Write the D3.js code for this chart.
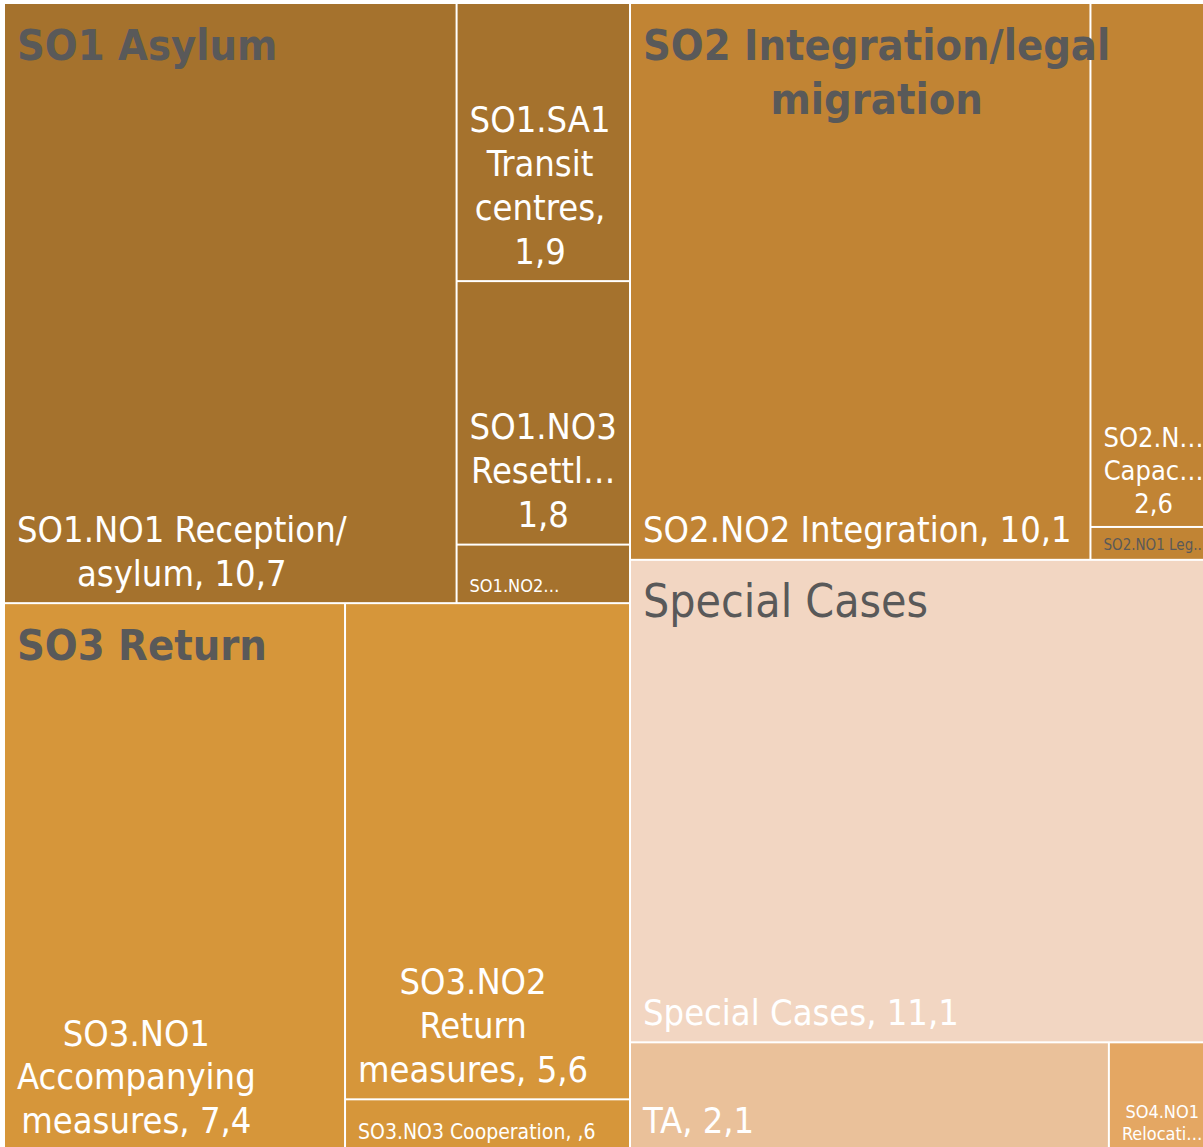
<!DOCTYPE html>
<html>
<head>
<meta charset="utf-8">
<script src="https://cdn.jsdelivr.net/npm/d3@7"></script>
<style>
  body { margin: 0; background: #fff; }
  svg text { font-family: "DejaVu Sans Condensed", "DejaVu Sans", sans-serif; font-stretch: condensed; }
</style>
</head>
<body>
<div id="chart"></div>
<script>
// groups, in the order the treemap lays them out
const groupNames = ["SO1 Asylum", "SO3 Return", "SO2 Integration/legal migration", "Special Cases"];
const groupTitleLines = [["SO1 Asylum"], ["SO3 Return"], ["SO2 Integration/legal", "migration"], ["Special Cases"]];

// leaves
const leafIds = ["SO1.NO1", "SO1.SA1", "SO1.NO3", "SO1.NO2",
  "SO3.NO1", "SO3.NO2", "SO3.NO3",
  "SO2.NO2", "SO2.NO3", "SO2.NO1",
  "Special Cases", "TA", "SO4.NO1"];
const leafGroup = [0, 0, 0, 0, 1, 1, 1, 2, 2, 2, 3, 3, 3];
const leafValues = [10.7, 1.9, 1.8, 0.4, 7.36, 5.57, 0.58, 10.1, 2.55, 0.16, 11.1, 2.05, 0.45];
const leafLabels = [
  ["SO1.NO1 Reception/", "asylum, 10,7"],
  ["SO1.SA1", "Transit", "centres,", "1,9"],
  ["SO1.NO3", "Resettl…", "1,8"],
  ["SO1.NO2…"],
  ["SO3.NO1", "Accompanying", "measures, 7,4"],
  ["SO3.NO2", "Return", "measures, 5,6"],
  ["SO3.NO3 Cooperation, ,6"],
  ["SO2.NO2 Integration, 10,1"],
  ["SO2.N…", "Capac…", "2,6"],
  ["SO2.NO1 Leg.."],
  ["Special Cases, 11,1"],
  ["TA, 2,1"],
  ["SO4.NO1", "Relocati…"],
];

// styles
const groupFill = ["#A5722D", "#D6963A", "#C18434", null];
const leafFill = { "Special Cases": "#F2D6C2", "TA": "#EAC19A", "SO4.NO1": "#E4A763" };
const labelSize = { "SO1.NO2": 18, "SO2.NO3": 27, "SO2.NO1": 15, "SO3.NO3": 21, "SO4.NO1": 18 };
const labelColor = { "SO2.NO1": "#595959" };
const titleWeight = ["bold", "bold", "bold", "normal"];
const titleSize = [43, 43, 43, 46];
const grey = "#595959";

const width = 1203, height = 1147;
const origin = [5, 4];

const svg = d3.select("#chart").append("svg")
  .attr("width", width)
  .attr("height", height);

const data = {
  children: groupNames.map((name, gi) => ({
    name, gi,
    children: leafIds.map((id, i) => ({ id, i })).filter((d) => leafGroup[d.i] === gi),
  })),
};

const root = d3.hierarchy(data).sum((d) => (d.children ? 0 : leafValues[d.i]));

d3.treemap()
  .tile(d3.treemapSquarify.ratio(1))
  .size([1208, 1146])
  .paddingInner(2)(root);

const g = svg.append("g").attr("transform", `translate(${origin[0]},${origin[1]})`);

const leaves = g.selectAll(".leaf")
  .data(root.leaves())
  .join("g")
  .attr("class", "leaf");

leaves.append("rect")
  .attr("x", (d) => d.x0)
  .attr("y", (d) => d.y0)
  .attr("width", (d) => d.x1 - d.x0)
  .attr("height", (d) => d.y1 - d.y0)
  .attr("fill", (d) => leafFill[d.data.id] || groupFill[d.parent.data.gi]);

// place a block of lines: left aligned block, lines centred inside it
function placeLines(text, lines, x0, baseline0, lineH) {
  const spans = text.selectAll("tspan")
    .data(lines)
    .join("tspan")
    .text((d) => d);
  const widths = [];
  spans.each(function () { widths.push(this.getComputedTextLength()); });
  const cx = x0 + d3.max(widths) / 2;
  spans.attr("x", cx).attr("y", (d, i) => baseline0 + i * lineH);
}

leaves.append("text")
  .attr("text-anchor", "middle")
  .attr("fill", (d) => labelColor[d.data.id] || "#fff")
  .attr("font-size", (d) => labelSize[d.data.id] || 36)
  .each(function (d) {
    const fs = labelSize[d.data.id] || 36;
    const lines = leafLabels[d.data.i];
    const lineH = fs * 1.22;
    const last = d.y1 - (0.35 * fs + 4);
    placeLines(d3.select(this), lines, d.x0 + 12, last - (lines.length - 1) * lineH, lineH);
  });

// group titles drawn above the leaves
g.selectAll(".title")
  .data(root.children)
  .join("text")
  .attr("class", "title")
  .attr("text-anchor", "middle")
  .attr("fill", grey)
  .attr("font-size", (d) => titleSize[d.data.gi])
  .attr("font-weight", (d) => titleWeight[d.data.gi])
  .each(function (d) {
    placeLines(d3.select(this), groupTitleLines[d.data.gi], d.x0 + 12, d.y0 + 56, 54);
  });
</script>
</body>
</html>
